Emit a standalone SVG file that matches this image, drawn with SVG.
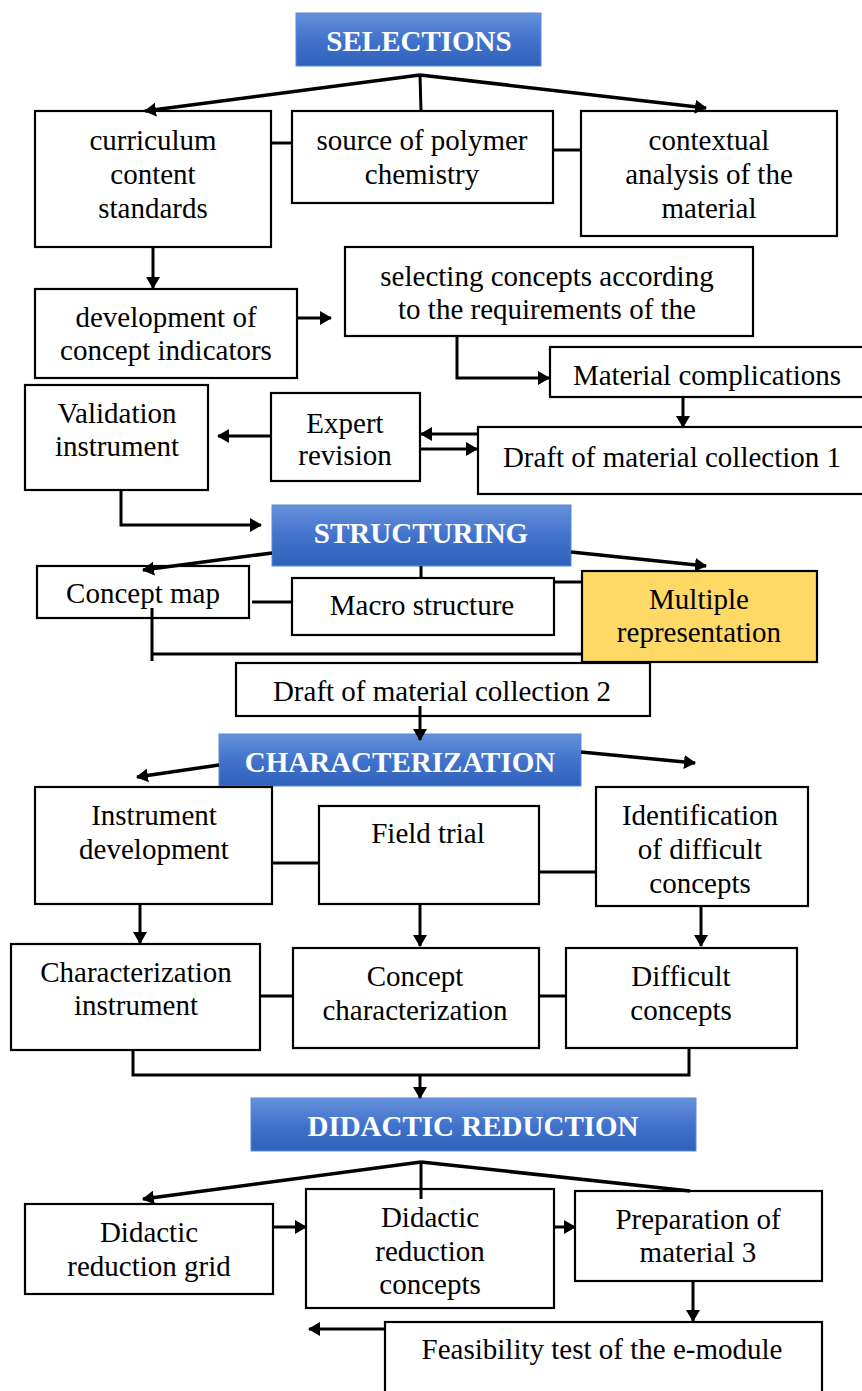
<svg xmlns="http://www.w3.org/2000/svg" width="862" height="1391" viewBox="0 0 862 1391">
<defs>
<linearGradient id="hdr" x1="0" y1="0" x2="0" y2="1">
<stop offset="0" stop-color="#6690DA"/>
<stop offset="0.5" stop-color="#4273CC"/>
<stop offset="1" stop-color="#2F62BC"/>
</linearGradient>
<marker id="ah" viewBox="0 0 12 14" refX="11" refY="7" markerWidth="12" markerHeight="14" markerUnits="userSpaceOnUse" orient="auto">
<path d="M0,0 L12,7 L0,14 z" fill="#000"/>
</marker>
</defs>
<style>
.box{fill:#fff;stroke:#000;stroke-width:2.2}
.yel{fill:#FFD966;stroke:#000;stroke-width:2.2}
.hdr{fill:url(#hdr);stroke:#5A8AD8;stroke-width:1}
.t{font-family:"Liberation Serif","Times New Roman",serif;font-size:29px;fill:#000;text-anchor:middle}
.h{font-family:"Liberation Serif","Times New Roman",serif;font-size:29px;font-weight:bold;fill:#fff;text-anchor:middle}
.c{fill:none;stroke:#000;stroke-width:3}
.a{fill:none;stroke:#000;stroke-width:3;marker-end:url(#ah)}
.f{fill:none;stroke:#000;stroke-width:3.5;marker-end:url(#ah)}
</style>
<rect width="862" height="1391" fill="#fff"/>

<g id="selections"><rect class="hdr" x="296" y="13" width="245" height="53"/><text class="h" x="419" y="51">SELECTIONS</text></g>
<g id="curriculum"><rect class="box" x="35" y="111" width="236" height="136"/><text class="t" x="153" y="150">curriculum</text><text class="t" x="153" y="184">content</text><text class="t" x="153" y="218">standards</text></g>
<g id="source"><rect class="box" x="292" y="111" width="261" height="92"/><text class="t" x="422" y="150">source of polymer</text><text class="t" x="422" y="184">chemistry</text></g>
<g id="contextual"><rect class="box" x="581" y="111" width="256" height="125"/><text class="t" x="709" y="150">contextual</text><text class="t" x="709" y="184">analysis of the</text><text class="t" x="709" y="218">material</text></g>
<g id="development"><rect class="box" x="35" y="289" width="262" height="89"/><text class="t" x="166" y="327">development of</text><text class="t" x="166" y="360">concept indicators</text></g>
<g id="selecting"><rect class="box" x="345" y="247" width="408" height="89"/><text class="t" x="547" y="286">selecting concepts according</text><text class="t" x="547" y="319">to the requirements of the</text></g>
<g id="material-complications"><rect class="box" x="550" y="347" width="320" height="50"/><text class="t" x="707" y="385">Material complications</text></g>
<g id="validation"><rect class="box" x="25" y="385" width="183" height="105"/><text class="t" x="117" y="423">Validation</text><text class="t" x="117" y="456">instrument</text></g>
<g id="expert"><rect class="box" x="271" y="393" width="149" height="88"/><text class="t" x="345" y="433">Expert</text><text class="t" x="345" y="465">revision</text></g>
<g id="draft1"><rect class="box" x="478" y="427" width="392" height="67"/><text class="t" x="672" y="467">Draft of material collection 1</text></g>

<g id="structuring"><rect class="hdr" x="272" y="505" width="299" height="61"/><text class="h" x="421" y="543">STRUCTURING</text></g>
<g id="concept-map"><rect class="box" x="37" y="566" width="212" height="52"/><text class="t" x="143" y="603">Concept map</text></g>
<g id="macro"><rect class="box" x="292" y="578" width="262" height="57"/><text class="t" x="422" y="615">Macro structure</text></g>
<g id="multiple"><rect class="yel" x="582" y="571" width="235" height="91"/><text class="t" x="699" y="609">Multiple</text><text class="t" x="699" y="642">representation</text></g>
<g id="draft2"><rect class="box" x="236" y="663" width="414" height="53"/><text class="t" x="442" y="701">Draft of material collection 2</text></g>

<g id="characterization"><rect class="hdr" x="219" y="734" width="362" height="52"/><text class="h" x="400" y="772">CHARACTERIZATION</text></g>
<g id="instrument-dev"><rect class="box" x="35" y="787" width="237" height="117"/><text class="t" x="154" y="825">Instrument</text><text class="t" x="154" y="859">development</text></g>
<g id="field-trial"><rect class="box" x="319" y="806" width="220" height="98"/><text class="t" x="428" y="843">Field trial</text></g>
<g id="identification"><rect class="box" x="596" y="787" width="212" height="119"/><text class="t" x="700" y="825">Identification</text><text class="t" x="700" y="859">of difficult</text><text class="t" x="700" y="893">concepts</text></g>
<g id="char-instrument"><rect class="box" x="11" y="944" width="249" height="106"/><text class="t" x="136" y="982">Characterization</text><text class="t" x="136" y="1015">instrument</text></g>
<g id="concept-char"><rect class="box" x="293" y="948" width="246" height="100"/><text class="t" x="415" y="986">Concept</text><text class="t" x="415" y="1020">characterization</text></g>
<g id="difficult"><rect class="box" x="566" y="948" width="231" height="100"/><text class="t" x="681" y="986">Difficult</text><text class="t" x="681" y="1020">concepts</text></g>

<g id="didactic-reduction"><rect class="hdr" x="251" y="1098" width="445" height="53"/><text class="h" x="473" y="1136">DIDACTIC REDUCTION</text></g>
<g id="didactic-grid"><rect class="box" x="25" y="1204" width="248" height="90"/><text class="t" x="149" y="1242">Didactic</text><text class="t" x="149" y="1276">reduction grid</text></g>
<g id="didactic-concepts"><rect class="box" x="306" y="1189" width="248" height="119"/><text class="t" x="430" y="1227">Didactic</text><text class="t" x="430" y="1261">reduction</text><text class="t" x="430" y="1294">concepts</text></g>
<g id="preparation"><rect class="box" x="575" y="1191" width="247" height="90"/><text class="t" x="698" y="1229">Preparation of</text><text class="t" x="698" y="1262">material 3</text></g>
<g id="feasibility"><rect class="box" x="385" y="1322" width="437" height="80"/><text class="t" x="602" y="1359">Feasibility test of the e-module</text></g>

<g id="connectors">
<path class="f" d="M420,75 L145,111"/>
<path class="f" d="M420,75 L706,108"/>
<path class="c" d="M420,75 L421,111"/>
<path class="c" d="M271,143 H292"/>
<path class="c" d="M553,150 H581"/>
<path class="a" d="M153,248 V288"/>
<path class="a" d="M297,318 H331"/>
<path class="a" d="M457,337 V378 H549"/>
<path class="a" d="M683,397 V427"/>
<path class="a" d="M478,434 H421"/>
<path class="a" d="M420,449 H477"/>
<path class="a" d="M271,436 H218"/>
<path class="a" d="M121,490 V525 H261"/>
<path class="f" d="M272,553 L143,570"/>
<path class="f" d="M571,552 L706,566"/>
<path class="c" d="M421,566 V578"/>
<path class="c" d="M252,602 H292"/>
<path class="c" d="M554,582 H582"/>
<path class="c" d="M152,608 V661 M152,654 H582"/>
<path class="a" d="M420,706 V740"/>
<path class="f" d="M219,765 L137,777"/>
<path class="f" d="M581,752 L695,763"/>
<path class="c" d="M272,863 H319"/>
<path class="c" d="M539,872 H596"/>
<path class="a" d="M140,904 V943"/>
<path class="a" d="M420,904 V946"/>
<path class="a" d="M701,906 V946"/>
<path class="c" d="M260,996 H293"/>
<path class="c" d="M539,996 H566"/>
<path class="c" d="M133,1050 V1075 H689 V1048"/>
<path class="a" d="M420,1075 V1098"/>
<path class="f" d="M421,1162 L143,1199"/>
<path class="c" d="M421,1162 L690,1191" style="stroke-width:3.5"/>
<path class="c" d="M421,1162 V1199"/>
<path class="a" d="M273,1227 H306"/>
<path class="a" d="M554,1227 H575"/>
<path class="a" d="M693,1281 V1321"/>
<path class="a" d="M385,1329 H309"/>
</g>
</svg>
